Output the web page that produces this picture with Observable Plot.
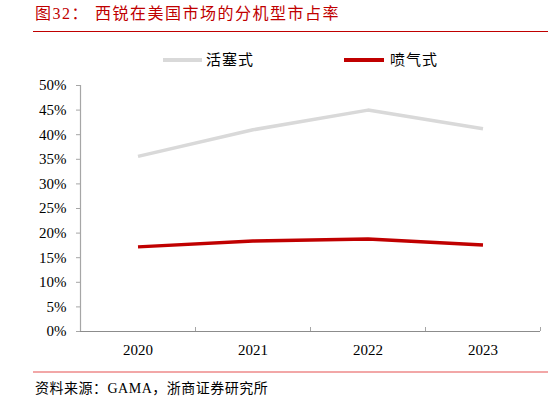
<!DOCTYPE html>
<html>
<head>
<meta charset="utf-8">
<script src="https://cdn.jsdelivr.net/npm/d3@7"></script>
<script src="https://cdn.jsdelivr.net/npm/@observablehq/plot@0.6"></script>
<style>
  html, body { margin: 0; padding: 0; background: #fff; }
  #wrap { position: relative; width: 548px; height: 402px; overflow: hidden; font-family: "Liberation Serif", "Noto Sans CJK SC", serif; }
  .abs { position: absolute; }
  #title { left: 35px; top: 4px; font-size: 16px; color: #C00000; letter-spacing: 1.5px; white-space: nowrap; line-height: 20px; }
  #titleRule { left: 33px; top: 30.5px; width: 515px; height: 1.5px; background: #C00000; }
  .legLine { height: 4px; top: 58px; }
  .legText { top: 50px; font-size: 15px; line-height: 20px; letter-spacing: 1px; color: #000; white-space: nowrap; }
  #chart { left: 0; top: 70px; }
  #botRule { left: 33px; top: 371px; width: 515px; height: 1.5px; background: #F2A7A7; }
  #caption { left: 35px; top: 379px; font-size: 14px; line-height: 20px; color: #000; white-space: nowrap; letter-spacing: 0.5px; }
</style>
</head>
<body>
<div id="wrap"></div>
<script>
// ---- data ----
const years = ["2020", "2021", "2022", "2023"];
const pistonShare = [35.6, 41.0, 45.0, 41.2];
const jetShare = [17.2, 18.4, 18.8, 17.6];
const seriesNames = ["活塞式", "喷气式"];
const seriesColors = ["#D9D9D9", "#C00000"];
const yTicks = [0, 5, 10, 15, 20, 25, 30, 35, 40, 45, 50];
const titleLabel = "图32：";
const titleText = "西锐在美国市场的分机型市占率";
const captionText = "资料来源：GAMA，浙商证券研究所";

const rows = years.flatMap((yr, i) => [
  {i, year: yr, v: pistonShare[i], s: seriesNames[0]},
  {i, year: yr, v: jetShare[i], s: seriesNames[1]}
]);
const boundaries = d3.range(years.length + 1).map(k => k - 0.5);

const wrap = document.getElementById("wrap");

function add(id, cls, styleObj, text) {
  const el = document.createElement("div");
  if (id) el.id = id;
  el.className = "abs " + (cls || "");
  Object.assign(el.style, styleObj || {});
  if (text != null) el.textContent = text;
  wrap.appendChild(el);
  return el;
}

// title
const t = add("title", "", {});
const t1 = document.createElement("span"); t1.textContent = titleLabel;
const t2 = document.createElement("span"); t2.textContent = titleText; t2.style.marginLeft = "6px";
t.appendChild(t1); t.appendChild(t2);
add("titleRule", "", {});

// legend
add(null, "legLine", {left: "163px", width: "39px", background: seriesColors[0]});
add(null, "legText", {left: "206px"}, seriesNames[0]);
add(null, "legLine", {left: "344px", width: "40px", background: seriesColors[1]});
add(null, "legText", {left: "390px"}, seriesNames[1]);

// chart
const chart = Plot.plot({
  width: 548,
  height: 295,
  marginTop: 15,
  marginBottom: 34,
  marginLeft: 80,
  marginRight: 8,
  style: {fontFamily: "Liberation Serif, Noto Sans CJK SC, serif", fontSize: "15px", color: "#000", background: "transparent", overflow: "visible"},
  x: {domain: [-0.5, years.length - 0.5], axis: null},
  y: {domain: [0, 50], axis: null},
  color: {domain: seriesNames, range: seriesColors},
  marks: [
    Plot.axisY({ticks: yTicks, tickFormat: d => d + "%", tickSize: 4, tickPadding: 10, stroke: "#A6A6A6", label: null}),
    Plot.axisX({ticks: boundaries, tickSize: -4, tickFormat: () => "", stroke: "#A6A6A6", label: null}),
    Plot.axisX({ticks: d3.range(years.length), tickFormat: i => years[i], tickSize: 0, tickPadding: 13, label: null}),
    Plot.ruleX([-0.5], {stroke: "#A6A6A6", strokeWidth: 1.2}),
    Plot.ruleY([0], {stroke: "#8C8C8C", strokeWidth: 1.2}),
    Plot.line(rows, {x: "i", y: "v", z: "s", stroke: "s", strokeWidth: 3.5, strokeLinecap: "butt", strokeLinejoin: "round"})
  ]
});
const holder = add("chart", "", {});
holder.appendChild(chart);

// bottom rule and caption
add("botRule", "", {});
add("caption", "", {}, captionText);
</script>
</body>
</html>
